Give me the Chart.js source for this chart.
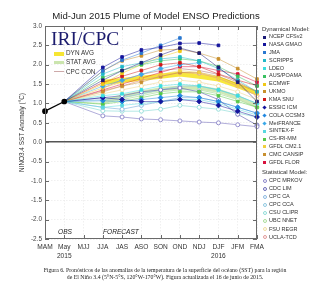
<!DOCTYPE html>
<html>
<head>
<meta charset="utf-8">
<script src="https://cdn.jsdelivr.net/npm/chart.js@4.4.0/dist/chart.umd.min.js"></script>
<style>
  html, body { margin: 0; padding: 0; background: #fff; }
  #wrap { position: relative; width: 320px; height: 300px; font-family: "Liberation Sans", Arial, sans-serif; color: #222; overflow: hidden; }
  #plume { position: absolute; left: 0; top: 0; }
  .t { position: absolute; white-space: nowrap; line-height: 1; }
  .mk { position: absolute; box-sizing: border-box; }
</style>
</head>
<body>
<div id="wrap">
  <canvas id="plume" width="320" height="300"></canvas>
  <div class="t" style="left:0;width:312px;text-align:center;top:11px;font-size:9.6px;color:#222;">Mid-Jun 2015 Plume of Model ENSO Predictions</div>
  <div class="t" style="left:51px;top:29px;font-family:'Liberation Serif',serif;font-size:19.5px;color:#1c1c6e;">IRI/CPC</div>
  <div class="t" style="left:58px;top:229px;font-size:6.6px;font-style:italic;">OBS</div>
  <div class="t" style="left:103px;top:229px;font-size:6.6px;font-style:italic;">FORECAST</div>
  <div id="inner"></div>
  <div id="side"></div>
  <div class="t" style="left:0;width:330px;text-align:center;top:267px;font-family:'Liberation Serif',serif;font-size:5.8px;color:#222;line-height:7.4px;">Figura 6. Pronósticos de las anomalías de la temperatura de la superficie del océano (SST) para la región<br>de El Niño 3.4 (5°N-5°S, 120°W-170°W). Figura actualizada el 16 de junio de 2015.</div>
</div>
<script>
// seasons on the x axis
const seasons = ['MAM', 'May', 'MJJ', 'JJA', 'JAS', 'ASO', 'SON', 'OND', 'NDJ', 'DJF', 'JFM', 'FMA'];
const tickLabels = ['MAM', ['May', '2015'], 'MJJ', 'JJA', 'JAS', 'ASO', 'SON', 'OND', 'NDJ', ['DJF', '2016'], 'JFM', 'FMA'];
const yTicks = [3.0, 2.5, 2.0, 1.5, 1.0, 0.5, 0.0, -0.5, -1.0, -1.5, -2.0, -2.5];

// observed MAM and May
const observed = [0.80, 1.05];

// forecasts, JJA .. FMA
const ncepCfsv2 = [1.60, 1.85, 2.05, 2.25, 2.43, 2.30, 1.93, 1.55, 1.05];
const nasaGmao  = [1.93, 2.20, 2.38, 2.45, 2.55, 2.56, 2.50, null, null];
const jma       = [1.84, 2.12, 2.30, 2.50, 2.69, null, null, null, null];
const scripps   = [1.76, 1.95, 2.05, 2.15, 2.20, 2.10, 1.90, 1.60, 1.30];
const ldeo      = [1.20, 1.25, 1.35, 1.45, 1.50, 1.45, 1.35, 1.20, 1.00];
const ausPoama  = [1.67, 1.85, 2.00, 2.10, 2.15, 2.10, 1.95, 1.70, 1.45];
const ecmwf     = [1.50, 1.78, 2.00, 2.20, 2.35, null, null, null, null];
const ukmo      = [1.84, 2.10, 2.23, 2.38, 2.40, 2.30, 2.15, 1.90, 1.63];
const kmaSnu    = [1.54, 1.70, 1.85, 2.00, 2.05, 1.95, 1.76, 1.60, 1.46];
const essicIcm  = [1.15, 1.10, 1.05, 1.05, 1.10, 1.05, 0.95, 0.80, 0.65];
const colaCcsm3 = [1.07, 1.05, 1.10, 1.15, 1.20, 1.15, 1.05, 0.90, 0.75];
const metFrance = [1.45, 1.60, 1.75, 1.90, 2.00, 2.05, null, null, null];
const sintexF   = [0.90, 0.95, 1.00, 1.05, 1.10, 1.10, 1.00, 0.85, 0.70];
const csIriMm   = [0.98, 1.05, 1.15, 1.25, 1.30, 1.30, 1.20, 1.05, 0.90];
const gfdlCm21  = [1.40, 1.55, 1.65, 1.75, 1.85, 1.80, 1.65, 1.45, 1.25];
const cmcCansip = [1.30, 1.45, 1.55, 1.70, 1.80, 1.80, 1.70, 1.50, 1.30];
const gfdlFlor  = [1.35, 1.50, 1.65, 1.80, 1.95, 1.95, 1.85, 1.76, 1.55];

const cpcMrkov  = [0.68, 0.65, 0.60, 0.58, 0.55, 0.52, 0.50, 0.45, 0.40];
const cdcLim    = [1.15, 1.20, 1.30, 1.35, 1.40, 1.30, 1.10, 0.72, 0.44];
const cpcCa     = [0.90, 0.85, 0.95, 1.05, 1.15, 1.15, 1.05, 0.90, 0.75];
const cpcCca    = [1.10, 1.15, 1.25, 1.35, 1.45, 1.45, 1.35, 1.20, 1.00];
const csuClipr  = [0.81, 0.80, 0.80, 0.85, 0.95, 0.90, 0.85, 0.75, 0.65];
const ubcNnet   = [1.00, 1.10, 1.20, 1.30, 1.35, 1.35, 1.25, 1.10, 0.90];
const fsuRegr   = [1.25, 1.35, 1.45, 1.55, 1.60, 1.55, 1.45, 1.30, 1.10];
const uclaTcd   = [1.33, 1.45, 1.60, 1.70, 1.80, 1.78, 1.65, 1.45, 1.20];

const dynAvg  = [1.55, 1.59, 1.65, 1.70, 1.76, 1.70, 1.63, 1.46, 1.27];
const statAvg = [1.05, 1.18, 1.28, 1.37, 1.41, 1.41, 1.33, 1.16, 0.94];
const cpcCon  = [1.40, 1.60, 1.75, 1.85, 1.90, 1.85, 1.75, 1.55, 1.30];

const dynNames = ['NCEP CFSv2', 'NASA GMAO', 'JMA', 'SCRIPPS', 'LDEO', 'AUS/POAMA', 'ECMWF', 'UKMO', 'KMA SNU',
  'ESSIC ICM', 'COLA CCSM3', 'MetFRANCE', 'SINTEX-F', 'CS-IRI-MM', 'GFDL CM2.1', 'CMC CANSIP', 'GFDL FLOR'];
const dynValues = [ncepCfsv2, nasaGmao, jma, scripps, ldeo, ausPoama, ecmwf, ukmo, kmaSnu,
  essicIcm, colaCcsm3, metFrance, sintexF, csIriMm, gfdlCm21, cmcCansip, gfdlFlor];
const dynColors = ['#1b1b78', '#14149c', '#2a78d0', '#22b8c8', '#3cdede', '#38c060', '#f0c818', '#c8902c', '#d01818',
  '#14149c', '#2288e0', '#3aa8e8', '#58d8e0', '#58c848', '#f0d040', '#c89030', '#d8103c'];
const dynShapes = ['rect', 'rect', 'rect', 'rect', 'rect', 'rect', 'rect', 'rect', 'rect',
  'rectRot', 'rectRot', 'rectRot', 'rect', 'rect', 'rect', 'rect', 'rect'];

const statNames = ['CPC MRKOV', 'CDC LIM', 'CPC CA', 'CPC CCA', 'CSU CLIPR', 'UBC NNET', 'FSU REGR', 'UCLA-TCD'];
const statValues = [cpcMrkov, cdcLim, cpcCa, cpcCca, csuClipr, ubcNnet, fsuRegr, uclaTcd];
const statColors = ['#8a84c8', '#6a6ab8', '#8ab8e0', '#90c8e0', '#90dcd8', '#a8dc98', '#f0dca0', '#e09898'];

function fade(hex, a) {
  const n = parseInt(hex.slice(1), 16);
  return `rgba(${n >> 16},${(n >> 8) & 255},${n & 255},${a})`;
}

// model lines start from the last observed month (May)
function modelData(v) { return [null, observed[1], null].concat(v); }
function avgData(v) { return [null, null, null].concat(v); }

const fanGray = 'rgba(110,110,110,0.55)';

const datasets = [];
datasets.push({
  label: 'OBS',
  data: observed.concat(Array(10).fill(null)),
  borderColor: '#000', backgroundColor: '#000',
  borderWidth: 1.3, pointRadius: 2.2, pointStyle: 'circle'
});
dynNames.forEach((name, i) => {
  datasets.push({
    label: name,
    data: modelData(dynValues[i]),
    borderColor: fade(dynColors[i], 0.55),
    backgroundColor: dynColors[i],
    pointBorderColor: dynColors[i],
    borderWidth: 0.9,
    pointStyle: dynShapes[i],
    pointRadius: ctx => ctx.dataIndex < 3 ? 0 : (dynShapes[i] === 'rectRot' ? 2.4 : 1.9),
    spanGaps: true,
    segment: { borderColor: ctx => ctx.p0DataIndex === 1 ? fanGray : undefined }
  });
});
statNames.forEach((name, i) => {
  datasets.push({
    label: name,
    data: modelData(statValues[i]),
    borderColor: fade(statColors[i], 0.75),
    backgroundColor: '#fff',
    pointBorderColor: statColors[i],
    pointBorderWidth: 0.9,
    borderWidth: 0.9,
    pointStyle: 'circle',
    pointRadius: ctx => ctx.dataIndex < 3 ? 0 : 2,
    spanGaps: true,
    segment: { borderColor: ctx => ctx.p0DataIndex === 1 ? fanGray : undefined }
  });
});
datasets.push({ label: 'CPC CON', data: avgData(cpcCon), borderColor: 'rgba(200,160,160,0.8)', borderWidth: 1, pointRadius: 0 });
datasets.push({ label: 'STAT AVG', data: avgData(statAvg), borderColor: 'rgba(200,228,170,0.85)', borderWidth: 4, pointRadius: 0 });
datasets.push({ label: 'DYN AVG', data: avgData(dynAvg), borderColor: 'rgba(246,228,40,0.9)', borderWidth: 5, pointRadius: 0 });

const frame = {
  id: 'frame',
  afterDraw(chart) {
    const { ctx, chartArea: a, scales: { x, y } } = chart;
    ctx.save();
    ctx.strokeStyle = '#6a6a6a';
    ctx.lineWidth = 1;
    ctx.strokeRect(a.left + 0.5, a.top + 0.5, a.width - 1, a.height - 1);
    ctx.beginPath();
    x.ticks.forEach((t, i) => {
      const px = Math.round(x.getPixelForTick(i)) + 0.5;
      ctx.moveTo(px, a.bottom); ctx.lineTo(px, a.bottom - 4);
      ctx.moveTo(px, a.top); ctx.lineTo(px, a.top + 4);
    });
    y.ticks.forEach((t, i) => {
      const py = Math.round(y.getPixelForTick(i)) + 0.5;
      ctx.moveTo(a.left, py); ctx.lineTo(a.left + 4, py);
      ctx.moveTo(a.right, py); ctx.lineTo(a.right - 4, py);
    });
    ctx.stroke();
    ctx.restore();
  }
};

new Chart(document.getElementById('plume'), {
  type: 'line',
  data: { labels: tickLabels, datasets: datasets },
  options: {
    responsive: false,
    animation: false,
    events: [],
    layout: { padding: { left: 0, right: 63, top: 26, bottom: 0 } },
    plugins: { legend: { display: false }, tooltip: { enabled: false }, title: { display: false } },
    scales: {
      x: {
        offset: false,
        afterFit: s => { s.height = 61; },
        grid: { color: '#e6e6e6', lineWidth: 0.6, drawTicks: false },
        border: { display: false, dash: [1.5, 1.5] },
        ticks: { color: '#333', padding: 4, maxRotation: 0, autoSkip: false, font: { family: 'Liberation Sans', size: 6.6, lineHeight: 1.3 } }
      },
      y: {
        min: -2.5, max: 3.0,
        afterFit: s => { s.width = 45; },
        afterBuildTicks: s => { s.ticks = yTicks.map(v => ({ value: v })); },
        grid: {
          drawTicks: false,
          color: c => c.tick && c.tick.value === 0 ? '#555' : '#e6e6e6',
          lineWidth: c => c.tick && c.tick.value === 0 ? 1.6 : 0.6
        },
        border: { display: false, dash: c => c.tick && c.tick.value === 0 ? [] : [1.5, 1.5] },
        ticks: { color: '#444', padding: 3, font: { family: 'Liberation Sans', size: 6.4 }, callback: v => v.toFixed(1) },
        title: { display: true, text: 'NINO3.4 SST Anomaly (°C)', color: '#333', padding: { top: 18, bottom: 0 }, font: { family: 'Liberation Sans', size: 6.4 } }
      }
    }
  },
  plugins: [frame]
});

// averages legend inside the plot
const inner = document.getElementById('inner');
[['DYN AVG', 'rgba(246,228,40,0.95)', 4], ['STAT AVG', 'rgba(200,228,170,0.95)', 3], ['CPC CON', 'rgba(200,160,160,0.9)', 1]].forEach((it, i) => {
  const cy = 53.5 + i * 9.2;
  inner.insertAdjacentHTML('beforeend',
    `<div class="mk" style="left:54px;top:${cy - it[2] / 2}px;width:10px;height:${it[2]}px;background:${it[1]};"></div>` +
    `<div class="t" style="left:66px;top:${cy - 3.3}px;font-size:6.4px;color:#333;">${it[0]}</div>`);
});

// model legend on the right
const side = document.getElementById('side');
side.insertAdjacentHTML('beforeend', `<div class="t" style="left:262px;top:26px;font-size:6px;color:#333;">Dynamical Model:</div>`);
dynNames.forEach((name, i) => {
  const cy = 37 + i * 7.85;
  const rot = dynShapes[i] === 'rectRot' ? 'transform:rotate(45deg);' : '';
  side.insertAdjacentHTML('beforeend',
    `<div class="mk" style="left:263px;top:${cy - 1.5}px;width:3px;height:3px;background:${dynColors[i]};${rot}"></div>` +
    `<div class="t" style="left:269px;top:${cy - 2.8}px;font-size:5.5px;color:#333;">${name}</div>`);
});
side.insertAdjacentHTML('beforeend', `<div class="t" style="left:262px;top:169px;font-size:6px;color:#333;">Statistical Model:</div>`);
statNames.forEach((name, i) => {
  const cy = 180.7 + i * 8.1;
  side.insertAdjacentHTML('beforeend',
    `<div class="mk" style="left:262.5px;top:${cy - 2}px;width:4px;height:4px;border:0.9px solid ${statColors[i]};border-radius:50%;"></div>` +
    `<div class="t" style="left:269px;top:${cy - 2.8}px;font-size:5.5px;color:#333;">${name}</div>`);
});
</script>
</body>
</html>
